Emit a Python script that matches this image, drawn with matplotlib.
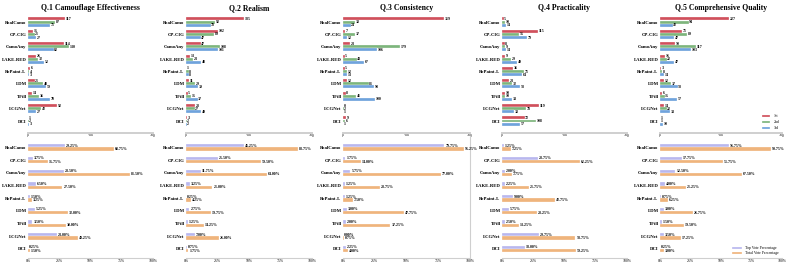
import matplotlib
matplotlib.use('Agg')
import matplotlib.pyplot as plt
import numpy as np

plt.rcParams['font.family'] = ['Liberation Serif', 'DejaVu Serif']

methods = ["RealCamo", "CP-CIG", "CamoAny", "LAKE-RED", "RePaint-L", "LDM", "TFill", "LCGNet", "DCI"]
titles = ["Q.1 Camouflage Effectiveness", "Q.2 Realism", "Q.3 Consistency",
          "Q.4 Practicality", "Q.5 Comprehensive Quality"]
rank_labels = ["1st", "2nd", "3rd"]
pct_labels = ["Top Vote Percentage", "Total Vote Percentage"]

# counts (1st, 2nd, 3rd place votes)
q1_first  = [117, 15, 114, 26, 6, 21, 14, 92, 1]
q1_second = [87, 21, 130, 32, 4, 48, 36, 42, 2]
q1_third  = [71, 27, 82, 52, 3, 59, 70, 27, 3]
q2_first  = [185, 102, 47, 13, 1, 11, 5, 28, 3]
q2_second = [92, 89, 108, 23, 8, 29, 15, 27, 2]
q2_third  = [78, 47, 101, 48, 8, 39, 37, 49, 2]
q3_first  = [319, 7, 23, 5, 5, 12, 8, 0, 9]
q3_second = [38, 37, 179, 43, 12, 81, 41, 2, 6]
q3_third  = [24, 12, 106, 67, 13, 98, 100, 1, 1]
q4_first  = [5, 115, 8, 9, 36, 23, 10, 119, 72]
q4_second = [10, 55, 9, 29, 71, 32, 10, 78, 108]
q4_third  = [14, 79, 14, 49, 64, 58, 33, 38, 57]
q5_first  = [227, 71, 50, 16, 3, 12, 6, 14, 1]
q5_second = [94, 89, 117, 22, 8, 37, 15, 22, 1]
q5_third  = [42, 47, 103, 47, 14, 58, 57, 33, 10]

# percentages (top-1 share, total top-3 share)
q1_top_pct   = [29.25, 3.75, 28.50, 6.50, 1.50, 5.25, 3.50, 23.00, 0.25]
q1_total_pct = [68.75, 15.75, 81.50, 27.50, 3.25, 32.00, 30.00, 40.25, 1.50]
q2_top_pct   = [46.25, 25.50, 11.75, 3.25, 0.25, 2.75, 1.25, 7.00, 0.75]
q2_total_pct = [88.75, 59.50, 64.00, 21.00, 4.25, 19.75, 14.25, 26.00, 1.75]
q3_top_pct   = [79.75, 1.75, 5.75, 1.25, 1.25, 3.00, 2.00, 0.00, 2.25]
q3_total_pct = [95.25, 14.00, 77.00, 28.75, 7.50, 47.75, 37.25, 0.75, 4.00]
q4_top_pct   = [1.25, 28.75, 2.00, 2.25, 9.00, 5.75, 2.50, 29.75, 18.00]
q4_total_pct = [7.25, 62.25, 7.75, 21.75, 42.75, 28.25, 13.25, 58.75, 59.25]
q5_top_pct   = [56.75, 17.75, 12.50, 4.00, 0.75, 3.00, 1.50, 3.50, 0.25]
q5_total_pct = [90.75, 51.75, 67.50, 21.25, 6.25, 26.75, 19.50, 17.25, 3.00]

counts = [
    (q1_first, q1_second, q1_third),
    (q2_first, q2_second, q2_third),
    (q3_first, q3_second, q3_third),
    (q4_first, q4_second, q4_third),
    (q5_first, q5_second, q5_third),
]
pcts = [
    (q1_top_pct, q1_total_pct),
    (q2_top_pct, q2_total_pct),
    (q3_top_pct, q3_total_pct),
    (q4_top_pct, q4_total_pct),
    (q5_top_pct, q5_total_pct),
]

rank_colors = ["#d0505c", "#7db57c", "#6fa3dc"]
pct_colors = ["#b9b7ee", "#efb47c"]
spine_gray = "#cfcfcf"

W, H = 793, 265
fig = plt.figure(figsize=(W / 100, H / 100), dpi=100)

def ax_px(l, t, r, b):
    return fig.add_axes([l / W, 1 - b / H, (r - l) / W, (b - t) / H])

cols = [(28, 153), (186, 312), (343, 470), (502, 627), (660, 782)]
bold = dict(fontweight='bold')
y = np.arange(len(methods))

for k, (l, r) in enumerate(cols):
    # ---- top panel: counts ----
    ax = ax_px(l, 14, r, 133)
    for j in range(3):
        vals = counts[k][j]
        off = (j - 1) * 0.25
        bars = ax.barh(y + off, vals, height=0.24, color=rank_colors[j],
                       label=rank_labels[j], edgecolor='white', linewidth=0.2)
        for yi, v in zip(y + off, vals):
            ax.text(v + 2, yi, str(v), va='center', ha='left', fontsize=2.8, **bold)
    ax.set_xlim(0, 400)
    ax.set_ylim(8.97, -0.65)
    ax.set_yticks(y)
    ax.set_yticklabels(methods, fontsize=3.4, **bold)
    ax.set_xticks([0, 200, 400])
    ax.set_xticklabels(["0", "200", "400"], fontsize=2.8)
    ax.tick_params(axis='both', length=0, pad=1)
    ax.tick_params(axis='x', pad=0.5)
    for s in ['top', 'right', 'left']:
        ax.spines[s].set_visible(False)
    ax.spines['bottom'].set_color(spine_gray)
    ax.spines['bottom'].set_linewidth(1.4)
    ax.set_title(titles[k], fontsize=5.6, fontweight='bold', pad=3)
    if k == 4:
        leg = ax.legend(loc='lower right', fontsize=2.8, frameon=False,
                        handlelength=2.2, handleheight=0.6, borderaxespad=0.3,
                        labelspacing=0.5)

    # ---- bottom panel: percentages ----
    bx = ax_px(l, 136, r, 258)
    for j in range(2):
        vals = pcts[k][j]
        off = (j - 0.5) * 0.26
        bx.barh(y + off, vals, height=0.26, color=pct_colors[j],
                label=pct_labels[j], edgecolor='white', linewidth=0.2)
        for yi, v in zip(y + off, vals):
            bx.text(v + 0.8, yi, f"{v:.2f}%", va='center', ha='left', fontsize=2.8, **bold)
    bx.set_xlim(0, 100)
    bx.set_ylim(8.71, -0.9)
    bx.set_yticks(y)
    bx.set_yticklabels(methods, fontsize=3.4, **bold)
    bx.set_xticks([0, 25, 50, 75, 100])
    bx.set_xticklabels(["0%", "25%", "50%", "75%", "100%"], fontsize=2.8)
    bx.tick_params(axis='both', length=0, pad=1)
    bx.tick_params(axis='x', pad=0.8)
    for s in ['top', 'right', 'left']:
        bx.spines[s].set_visible(False)
    bx.spines['bottom'].set_color(spine_gray)
    bx.spines['bottom'].set_linewidth(0.8)
    if k == 2:
        bx.spines['right'].set_visible(True)
        bx.spines['right'].set_color(spine_gray)
        bx.spines['right'].set_linewidth(0.8)
    if k == 4:
        bx.legend(loc='lower right', fontsize=2.8, frameon=False,
                  handlelength=2.6, handleheight=0.6, borderaxespad=0.3,
                  labelspacing=0.3)

fig.savefig("out.png", dpi=100)
